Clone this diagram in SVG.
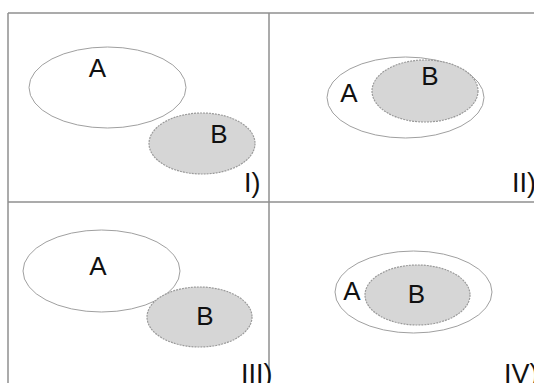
<svg xmlns="http://www.w3.org/2000/svg" width="534" height="383" viewBox="0 0 534 383">
<style>
.grid{stroke:#8f8f8f;stroke-width:1.5;fill:none}
.setA{fill:#ffffff;stroke:#a0a0a0;stroke-width:1}
.setB{fill:#d6d6d6;stroke:#9a9a9a;stroke-width:1.2;stroke-dasharray:2 1}
.lbl{font-family:"Liberation Sans",Arial,sans-serif;font-size:26px;fill:#111}
.num{font-family:"Liberation Sans",Arial,sans-serif;font-size:27px;fill:#111}
</style>
<rect width="534" height="383" fill="#ffffff"/>
<g id="grid">
<line class="grid" x1="8" y1="13" x2="534" y2="13"/>
<line class="grid" x1="8" y1="13" x2="8" y2="383"/>
<line class="grid" x1="269" y1="13" x2="269" y2="383"/>
<line class="grid" x1="8" y1="202" x2="534" y2="202"/>
</g>
<g id="panel-I">
<ellipse class="setA" cx="107.5" cy="87.5" rx="78.5" ry="40.5"/>
<ellipse class="setB" cx="202" cy="143.5" rx="53" ry="30.5"/>
<text class="lbl" x="97.5" y="76.5" text-anchor="middle">A</text>
<text class="lbl" x="219" y="143" text-anchor="middle">B</text>
<text class="num" x="244" y="192">I)</text>
</g>
<g id="panel-II">
<ellipse class="setA" cx="405.5" cy="97.5" rx="78.5" ry="40.5"/>
<ellipse class="setB" cx="425" cy="91" rx="53" ry="31"/>
<text class="lbl" x="349" y="102" text-anchor="middle">A</text>
<text class="lbl" x="430" y="85" text-anchor="middle">B</text>
<text class="num" x="512" y="192">II)</text>
</g>
<g id="panel-III">
<ellipse class="setA" cx="101.5" cy="271" rx="78.5" ry="41"/>
<ellipse class="setB" cx="199.5" cy="317" rx="52.5" ry="30"/>
<text class="lbl" x="98" y="275" text-anchor="middle">A</text>
<text class="lbl" x="205" y="325" text-anchor="middle">B</text>
<text class="num" x="241" y="383">III)</text>
</g>
<g id="panel-IV">
<ellipse class="setA" cx="413.5" cy="292" rx="78.5" ry="41"/>
<ellipse class="setB" cx="417.5" cy="295" rx="52.5" ry="30"/>
<text class="lbl" x="352" y="300" text-anchor="middle">A</text>
<text class="lbl" x="416.5" y="303" text-anchor="middle">B</text>
<text class="num" x="504" y="383">IV)</text>
</g>
</svg>
